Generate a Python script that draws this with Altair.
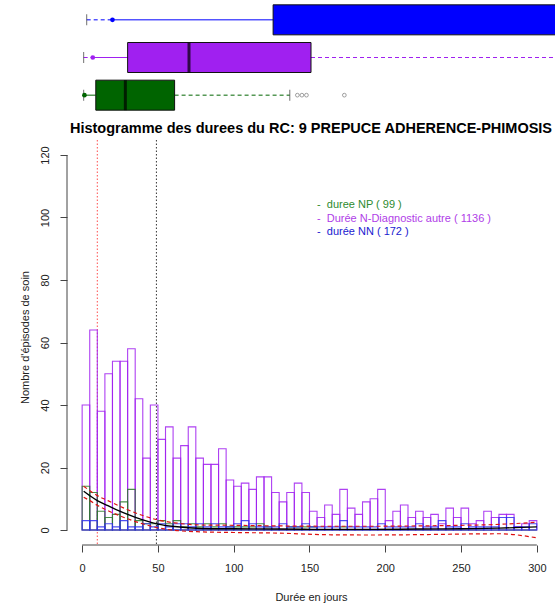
import altair as alt
import pandas as pd

FONT = "Liberation Sans"

# ---- groups -------------------------------------------------------------
groupes = ["durée NN", "Durée N-Diagnostic autre", "duree NP"]
couleurs_box = ["#0000ff", "#a020f0", "#006400"]
effectifs = [172, 1136, 99]

# ---- histogram counts, 5-day bins from 0 to 300 days --------------------
bin_starts = list(range(0, 300, 5))
counts_autre = [40, 64, 38, 50, 54, 54, 58, 42, 23, 40, 29, 33, 23, 27, 33, 23, 21, 21, 26, 16,
                14, 15, 13, 17, 17, 12, 9, 12, 15, 12, 6, 4, 8, 5, 13, 7, 5, 9, 10, 13,
                3, 6, 8, 4, 6, 4, 5, 2, 7, 4, 7, 2, 3, 6, 4, 5, 5, 1, 2, 3]
counts_np = [14, 12, 6, 4, 5, 9, 13, 3, 2, 2, 3, 2, 3, 1, 2, 1, 2, 1, 2, 1,
             1, 1, 1, 2, 1, 0, 0, 1, 1, 1, 1, 0, 0, 0, 1, 0, 0, 0, 0, 0,
             0, 0, 0, 0, 0, 0, 0, 0, 0, 0, 0, 0, 0, 0, 0, 0, 0, 0, 0, 0]
counts_nn = [3, 3, 1, 2, 1, 3, 1, 1, 2, 1, 2, 1, 2, 2, 1, 2, 1, 2, 1, 1,
             2, 3, 2, 1, 1, 1, 2, 1, 1, 2, 1, 1, 1, 1, 3, 1, 1, 1, 1, 2,
             1, 1, 1, 1, 2, 1, 1, 3, 1, 1, 2, 1, 1, 1, 1, 4, 4, 1, 1, 2]

# ---- boxplot statistics (days) ------------------------------------------
box_min = [3, 1, 1]
box_p5 = [20, 7, 1.5]
box_q1 = [126, 30, 9]
box_med = [340, 70.5, 28.5]
box_q3 = [480, 151, 61]
box_max = [900, 640, 137]
outliers_np = [142, 145, 148, 173]

# ---- smoothed fit with its band ----------------------------------------
fit_jours = [1, 5, 10, 17, 24, 30, 39, 50, 61, 79, 100, 130, 160, 190, 220, 250, 275, 300]
fit_mid = [12.4, 11.0, 9.4, 7.8, 6.2, 5.0, 3.4, 1.9, 1.1, 0.5, 0.4, 0.3, 0.2, 0.2, 0.3, 0.4, 0.6, 1.0]
fit_hi = [14.0, 12.6, 11.0, 9.4, 7.8, 6.5, 4.8, 3.2, 2.3, 1.6, 1.5, 1.3, 1.2, 1.2, 1.3, 1.5, 1.8, 2.5]
fit_lo = [10.5, 9.4, 7.9, 6.2, 4.7, 3.6, 2.1, 0.7, -0.1, -0.6, -0.8, -1.0, -1.5, -1.6, -1.5, -1.3, -1.2, -2.5]

# ---- reference lines ----------------------------------------------------
vlines_jours = [10, 49]
vlines_couleurs = ["#ff2020", "#000000"]

W = 488
H_BOX = 113
H_HIST = 405
x_dom = [-10, 312]

# ======================= boxplot panel ===================================
box_df = pd.DataFrame({
    "groupe": groupes, "couleur": couleurs_box,
    "mn": box_min, "p5": box_p5, "q1": box_q1, "med": box_med, "q3": box_q3, "mx": box_max,
})
out_df = pd.DataFrame({"groupe": ["duree NP"] * len(outliers_np), "v": outliers_np})

xs_box = alt.Scale(domain=x_dom, nice=False, zero=False)
y_box = alt.Y("groupe:N", sort=groupes, axis=None,
              scale=alt.Scale(domain=groupes, paddingInner=0, paddingOuter=0))
col_box = alt.Color("couleur:N", scale=None)

base_box = alt.Chart(box_df)
whisk_lo = base_box.mark_rule(clip=True, strokeDash=[4, 3], strokeWidth=1).encode(
    x=alt.X("mn:Q", scale=xs_box, axis=None), x2="p5:Q", y=y_box, color=col_box)
seg_lo = base_box.mark_rule(clip=True, strokeWidth=1).encode(
    x=alt.X("p5:Q", scale=xs_box, axis=None), x2="q1:Q", y=y_box, color=col_box)
whisk_hi = base_box.mark_rule(clip=True, strokeDash=[4, 3], strokeWidth=1).encode(
    x=alt.X("q3:Q", scale=xs_box, axis=None), x2="mx:Q", y=y_box, color=col_box)
box = base_box.mark_bar(clip=True, size=30, stroke="#111111", strokeWidth=1).encode(
    x=alt.X("q1:Q", scale=xs_box, axis=None), x2="q3:Q", y=y_box, color=col_box)
med = base_box.mark_tick(clip=True, size=30, thickness=3, color="#000000").encode(
    x=alt.X("med:Q", scale=xs_box, axis=None), y=y_box)
cap_lo = base_box.mark_tick(clip=True, size=11, thickness=1, color="#333333").encode(
    x=alt.X("mn:Q", scale=xs_box, axis=None), y=y_box)
cap_hi = base_box.mark_tick(clip=True, size=11, thickness=1, color="#333333").encode(
    x=alt.X("mx:Q", scale=xs_box, axis=None), y=y_box)
dots = base_box.mark_circle(clip=True, size=22, opacity=1).encode(
    x=alt.X("p5:Q", scale=xs_box, axis=None), y=y_box, color=col_box)
outl = alt.Chart(out_df).mark_point(clip=True, shape="circle", filled=False, size=14,
                                     color="#555555", strokeWidth=0.8).encode(
    x=alt.X("v:Q", scale=xs_box, axis=None), y=y_box)

top = alt.layer(whisk_lo, seg_lo, whisk_hi, box, med, cap_lo, cap_hi, dots, outl).properties(
    width=W, height=H_BOX)

# ======================= histogram panel =================================
hist_rows = []
for nom, counts in [("autre", counts_autre), ("NP", counts_np), ("NN", counts_nn)]:
    for b, n in zip(bin_starts, counts):
        hist_rows.append({"groupe": nom, "debut": b, "fin": b + 5, "n": n})
hist_df = pd.DataFrame(hist_rows)

xs = alt.Scale(domain=x_dom, nice=False, zero=False)
ys = alt.Scale(domain=[-4.8, 124.8], nice=False, zero=False)

x_axis = alt.Axis(values=list(range(0, 301, 50)), domain=False, grid=False, tickSize=7,
                  tickColor="#444444", labelPadding=16, labelBaseline="middle", labelFlush=False,
                  title="Durée en jours", titleY=52, titleBaseline="middle",
                  titleFontWeight="normal")
y_axis = alt.Axis(values=list(range(0, 121, 20)), domain=False, grid=False, tickSize=7,
                  tickColor="#444444",
                  labelAngle=270, labelAlign="center", labelBaseline="middle", labelPadding=15,
                  labelFlush=False,
                  title="Nombre d'épisodes de soin", titleX=-42, titleY=197, titleAngle=270,
                  titleAlign="center", titleBaseline="middle", titleFontWeight="normal")

bars = alt.Chart(hist_df).mark_bar(fillOpacity=0, strokeWidth=1.1, strokeOpacity=0.85).encode(
    x=alt.X("debut:Q", scale=xs, axis=x_axis),
    x2="fin:Q",
    y=alt.Y("n:Q", scale=ys, axis=y_axis),
    y2=alt.Y2(datum=0),
    stroke=alt.Stroke("groupe:N", legend=None,
                      scale=alt.Scale(domain=["autre", "NP", "NN"],
                                      range=["#a020f0", "#2a7a2a", "#3030f0"])),
)

vl_df = pd.DataFrame({"jour": vlines_jours, "c": vlines_couleurs})
vlines = alt.Chart(vl_df).mark_rule(strokeDash=[1.5, 2], strokeWidth=1, opacity=0.8).encode(
    x=alt.X("jour:Q", scale=xs), color=alt.Color("c:N", scale=None))

fit_df = pd.DataFrame({"jour": fit_jours, "mid": fit_mid, "lo": fit_lo, "hi": fit_hi})
fit_base = alt.Chart(fit_df)
fit_line = fit_base.mark_line(color="#000000", strokeWidth=1.4, interpolate="monotone").encode(
    x=alt.X("jour:Q", scale=xs), y=alt.Y("mid:Q", scale=ys))
fit_hi_l = fit_base.mark_line(color="#dd1010", strokeWidth=1.2, strokeDash=[4, 3],
                              interpolate="monotone").encode(
    x=alt.X("jour:Q", scale=xs), y=alt.Y("hi:Q", scale=ys))
fit_lo_l = fit_base.mark_line(color="#dd1010", strokeWidth=1.2, strokeDash=[4, 3],
                              interpolate="monotone").encode(
    x=alt.X("jour:Q", scale=xs), y=alt.Y("lo:Q", scale=ys))

# R-style axis lines spanning only the labelled range
x_line = alt.Chart(pd.DataFrame({"a": [0]})).mark_rule(color="#444444").encode(
    x=alt.X(datum=0, scale=xs), x2=alt.X2(datum=300), y=alt.value(H_HIST))
y_line = alt.Chart(pd.DataFrame({"a": [0]})).mark_rule(color="#444444").encode(
    y=alt.Y(datum=0, scale=ys), y2=alt.Y2(datum=120), x=alt.value(0))

# legend entries
leg_couleurs = ["#2e8b2e", "#b040e8", "#1a1ad0"]
gap = "\u00a0\u00a0"
leg_textes = [f"-{gap}duree NP ( {effectifs[2]} )",
              f"-{gap}Durée N-Diagnostic autre ( {effectifs[1]} )",
              f"-{gap}durée NN ( {effectifs[0]} )"]
leg_layers = []
for i, (t, c) in enumerate(zip(leg_textes, leg_couleurs)):
    leg_layers.append(
        alt.Chart(pd.DataFrame({"t": [t]})).mark_text(
            align="left", baseline="middle", fontSize=11, font=FONT, color=c).encode(
            text="t:N", x=alt.value(250), y=alt.value(65 + 13.5 * i)))

bottom = alt.layer(vlines, bars, fit_hi_l, fit_lo_l, fit_line, x_line, y_line, *leg_layers).properties(
    width=W, height=H_HIST,
    title=alt.TitleParams("Histogramme des durees du RC: 9 PREPUCE ADHERENCE-PHIMOSIS",
                          fontSize=14.5, fontWeight="bold", font=FONT, anchor="middle",
                          frame="group", offset=3, color="#000000"),
)

chart = alt.vconcat(top, bottom, spacing=26, bounds="flush").properties(
    padding={"left": 19, "top": 1, "right": 2, "bottom": 4},
    background="white",
).configure_view(stroke=None, strokeWidth=0).configure_axis(
    grid=False, labelFont=FONT, titleFont=FONT, labelFontSize=11, titleFontSize=11,
    labelColor="#222222", titleColor="#222222"
)

chart.save("out.html", embed_options={"renderer": "svg", "actions": False})
